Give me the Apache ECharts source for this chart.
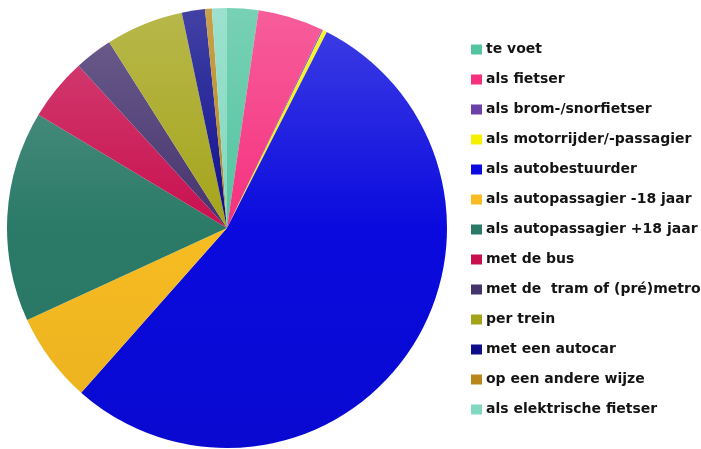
<!DOCTYPE html>
<html>
<head>
<meta charset="utf-8">
<script src="https://cdn.jsdelivr.net/npm/echarts@6/dist/echarts.min.js"></script>
<style>
  html, body { margin: 0; padding: 0; background: #ffffff; }
  #chart { width: 701px; height: 449px; }
</style>
</head>
<body>
<div id="chart"></div>
<script>
// Vervoerswijze (aandeel in %)
const categories = [
  'te voet',
  'als fietser',
  'als brom-/snorfietser',
  'als motorrijder/-passagier',
  'als autobestuurder',
  'als autopassagier -18 jaar',
  'als autopassagier +18 jaar',
  'met de bus',
  'met de  tram of (pré)metro',
  'per trein',
  'met een autocar',
  'op een andere wijze',
  'als elektrische fietser'
];
const shares = [2.3, 4.8, 0.1, 0.3, 54.1, 6.6, 15.5, 4.6, 2.8, 5.7, 1.7, 0.5, 1.1];
const colors = [
  '#52c4a0', '#f5307f', '#6b40a8', '#f4f000', '#0a0ade', '#f8bc22', '#2b7a68',
  '#c8104f', '#45336e', '#a4a41a', '#0d0d8c', '#b8861a', '#80d8c0'
];

// Mix a hex colour towards white (t > 0) or black (t < 0)
function shade(hex, t) {
  const n = parseInt(hex.slice(1), 16);
  let r = (n >> 16) & 255, g = (n >> 8) & 255, b = n & 255;
  const target = t > 0 ? 255 : 0;
  const a = Math.abs(t);
  r = Math.round(r + (target - r) * a);
  g = Math.round(g + (target - g) * a);
  b = Math.round(b + (target - b) * a);
  return 'rgb(' + r + ',' + g + ',' + b + ')';
}

const cx = 227, cy = 228, radius = 220;

const chart = echarts.init(document.getElementById('chart'), null, { renderer: 'canvas' });

const data = categories.map((name, i) => ({
  name: name,
  value: shares[i],
  itemStyle: {
    color: new echarts.graphic.LinearGradient(0, cy - radius, 0, cy + radius, [
      { offset: 0, color: shade(colors[i], 0.22) },
      { offset: 0.5, color: colors[i] },
      { offset: 1, color: shade(colors[i], -0.06) }
    ], true)
  }
}));

chart.setOption({
  animation: false,
  color: colors,
  legend: {
    orient: 'vertical',
    left: 466,
    top: 37,
    itemWidth: 11,
    itemHeight: 10,
    itemGap: 15,
    icon: 'rect',
    data: categories.map((name, i) => ({ name: name, itemStyle: { color: colors[i] } })),
    textStyle: {
      fontFamily: 'DejaVu Sans',
      fontWeight: 'bold',
      fontSize: 14,
      lineHeight: 15,
      color: '#141414',
      padding: [0, 0, 0, -1]
    }
  },
  series: [{
    type: 'pie',
    center: [cx, cy],
    radius: radius,
    startAngle: 90,
    clockwise: true,
    label: { show: false },
    labelLine: { show: false },
    emphasis: { disabled: true },
    itemStyle: { borderWidth: 0 },
    data: data
  }]
});
</script>
</body>
</html>
